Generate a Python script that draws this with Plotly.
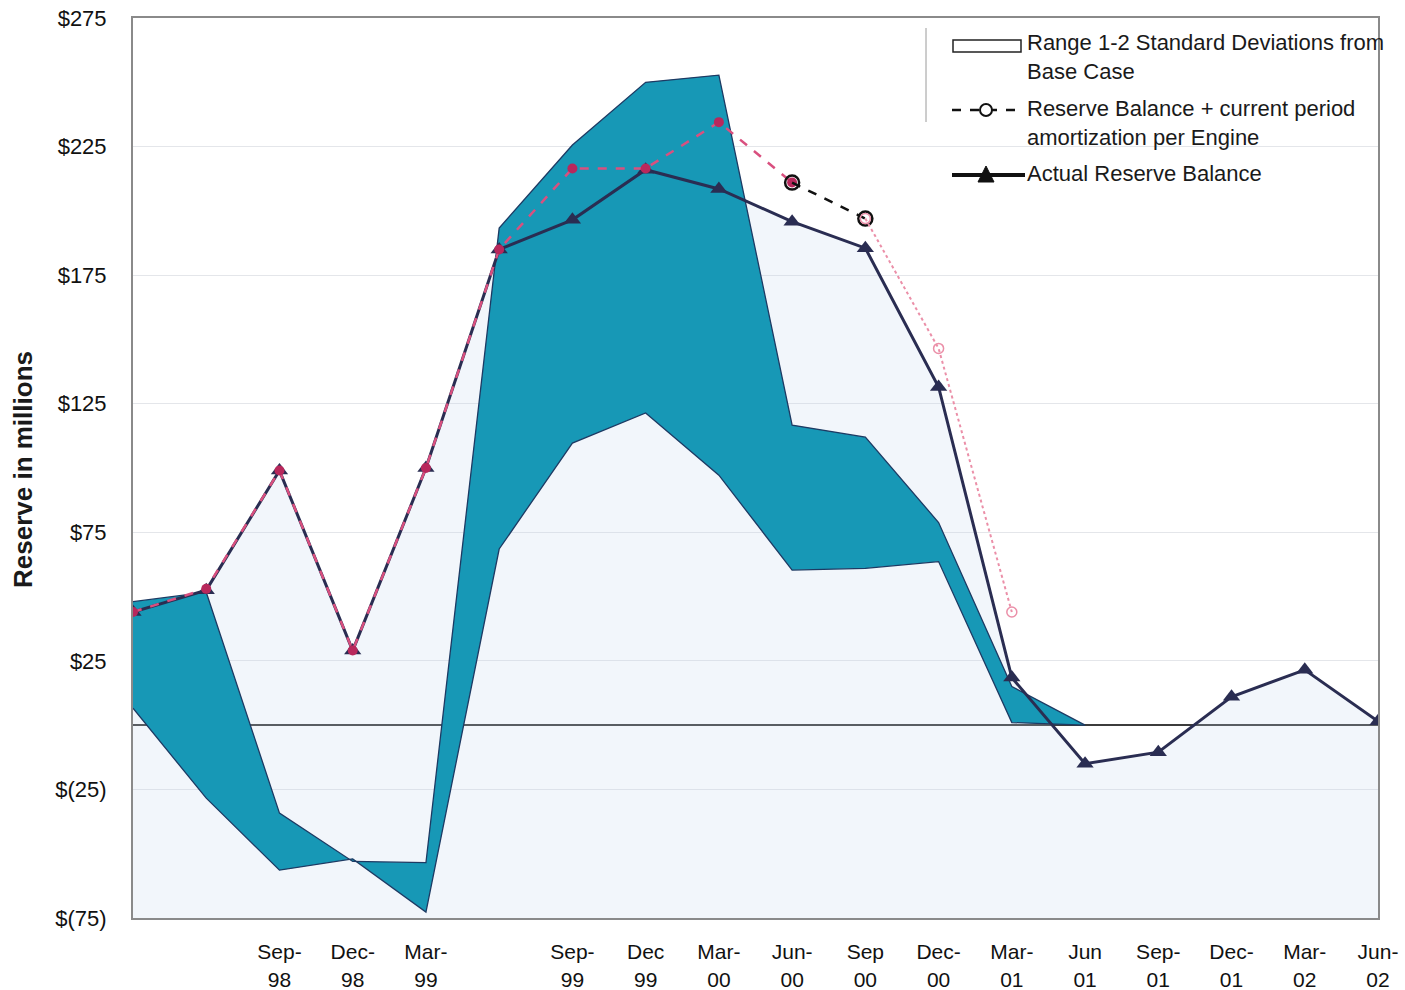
import plotly.graph_objects as go

# ---------------- data ----------------
quarters = ["Mar-98", "Jun-98", "Sep-98", "Dec-98", "Mar-99", "Jun-99", "Sep-99", "Dec-99",
            "Mar-00", "Jun-00", "Sep-00", "Dec-00", "Mar-01", "Jun-01", "Sep-01", "Dec-01",
            "Mar-02", "Jun-02"]
tick_labels = ["", "", "Sep-<br>98", "Dec-<br>98", "Mar-<br>99", "", "Sep-<br>99", "Dec<br>99",
               "Mar-<br>00", "Jun-<br>00", "Sep<br>00", "Dec-<br>00", "Mar-<br>01", "Jun<br>01",
               "Sep-<br>01", "Dec-<br>01", "Mar-<br>02", "Jun-<br>02"]

actual = [44, 52.5, 99, 29, 100, 185, 196.5, 216, 208.5, 195.8, 185.5, 131.5, 18.5,
          -15, -10.5, 11, 21.5, 1.5]
amort_main = [44, 53, 99, 29, 100, 185, 216.5, 216.5, 234.5, 211]          # Mar-98 .. Jun-00
amort_mid = [211, 197]                                                       # Jun-00 .. Sep-00
amort_tail = [197, 146.5, 44]                                                # Sep-00 .. Mar-01
band_upper = [48, 51.7, -34.2, -53, -53.5, 193.3, 225.6, 250, 252.8, 116.7, 112, 78.8, 15, 0]
band_lower = [6.6, -28.4, -56.4, -52, -72.7, 68.5, 109.7, 121.4, 97.2, 60.3, 61, 63.6, 1, 0]

y_ticks = [-75, -25, 25, 75, 125, 175, 225, 275]
y_ticktext = ["$(75)", "$(25)", "$25", "$75", "$125", "$175", "$225", "$275"]
y_min, y_max = -75, 275

x = list(range(len(quarters)))

TEAL = "#1798b6"
NAVY = "#2a2d52"
PINK = "#d9507f"
FONT = "Liberation Sans, Arial, sans-serif"

fig = go.Figure()

# light fill under the actual balance line (down to the axis floor)
fig.add_trace(go.Scatter(x=x, y=[y_min] * len(x), mode="lines", line=dict(width=0),
                         hoverinfo="skip", showlegend=False))
fig.add_trace(go.Scatter(x=x, y=actual, mode="lines", line=dict(width=0),
                         fill="tonexty", fillcolor="rgba(195,212,235,0.22)",
                         hoverinfo="skip", showlegend=False))

# standard deviation band
xb = x[:len(band_upper)]
fig.add_trace(go.Scatter(x=xb, y=band_upper, mode="lines",
                         line=dict(color="#1d3a63", width=1.3), showlegend=False))
fig.add_trace(go.Scatter(x=xb, y=band_lower, mode="lines", fill="tonexty", fillcolor=TEAL,
                         line=dict(color="#1d3a63", width=1.3), showlegend=False))

# actual reserve balance
fig.add_trace(go.Scatter(x=x, y=actual, mode="lines+markers",
                         line=dict(color=NAVY, width=3),
                         marker=dict(symbol="triangle-up", size=15, color=NAVY),
                         showlegend=False))

# reserve balance + current period amortization
fig.add_trace(go.Scatter(x=x[:len(amort_main)], y=amort_main, mode="lines+markers",
                         line=dict(color=PINK, width=2.5, dash="dash"),
                         marker=dict(symbol="circle", size=10, color="#b8285c"),
                         showlegend=False))
fig.add_trace(go.Scatter(x=x[9:9 + len(amort_mid)], y=amort_mid, mode="lines+markers",
                         line=dict(color="#111111", width=2.5, dash="dash"),
                         marker=dict(symbol="circle-open", size=14, color="#111111",
                                     line=dict(width=2.5)),
                         showlegend=False))
fig.add_trace(go.Scatter(x=x[10:10 + len(amort_tail)], y=amort_tail, mode="lines+markers",
                         line=dict(color="#eb8fa8", width=2, dash="dot"),
                         marker=dict(symbol="circle-open", size=10, color="#eb8fa8",
                                     line=dict(width=1.5)),
                         showlegend=False))

# ---------------- layout ----------------
W, H = 1405, 990
PL, PR, PT, PB = 133, 1378, 18, 918           # plot area in page pixels
L, R, T, B = PL, W - PR, PT, H - PB
PW, PH = PR - PL, PB - PT


def px(xp):
    return (xp - PL) / PW


def py(yp):
    return (PB - yp) / PH


shapes = []
annotations = []

# legend
shapes.append(dict(type="line", xref="paper", yref="paper", x0=px(926), x1=px(926),
                   y0=py(28), y1=py(122), line=dict(color="#9a9a9a", width=1)))
shapes.append(dict(type="rect", xref="paper", yref="paper", x0=px(953), x1=px(1021),
                   y0=py(52), y1=py(40), fillcolor="white", line=dict(color="#222", width=1.5)))
shapes.append(dict(type="line", xref="paper", yref="paper", x0=px(952), x1=px(1021),
                   y0=py(110), y1=py(110), line=dict(color="#111", width=2.5, dash="dash")))
shapes.append(dict(type="circle", xref="paper", yref="paper", x0=px(980), x1=px(992),
                   y0=py(104), y1=py(116), fillcolor="white", line=dict(color="#111", width=2)))
shapes.append(dict(type="line", xref="paper", yref="paper", x0=px(952), x1=px(1025),
                   y0=py(175), y1=py(175), line=dict(color="#111", width=4)))
shapes.append(dict(type="path", xref="paper", yref="paper",
                   path=f"M {px(978)} {py(182)} L {px(994)} {py(182)} L {px(986)} {py(166)} Z",
                   fillcolor="#111", line=dict(color="#111", width=1)))

legend_texts = [
    (28, "Range 1-2 Standard Deviations from<br>Base Case"),
    (94, "Reserve Balance + current period<br>amortization per Engine"),
    (159, "Actual Reserve Balance"),
]
for top, txt in legend_texts:
    annotations.append(dict(xref="paper", yref="paper", x=px(1025), y=py(top),
                            xanchor="left", yanchor="top", align="left", showarrow=False,
                            text=txt, font=dict(family=FONT, size=22, color="#1a1a1a")))

# y axis title
annotations.append(dict(xref="paper", yref="paper", x=px(23), y=py(470), xanchor="center",
                        yanchor="middle", textangle=-90, showarrow=False,
                        text="<b>Reserve in millions</b>",
                        font=dict(family=FONT, size=26, color="#1a1a1a")))

fig.update_layout(
    width=W, height=H,
    margin=dict(l=L, r=R, t=T, b=B, autoexpand=False),
    paper_bgcolor="white", plot_bgcolor="white",
    showlegend=False,
    shapes=shapes, annotations=annotations,
    xaxis=dict(range=[0, len(x) - 1], tickmode="array", tickvals=x, ticktext=tick_labels,
               showgrid=False, zeroline=False, showline=True, linecolor="#8a8a8a",
               linewidth=2, mirror=True, ticks="", ticklabelstandoff=14,
               automargin=False, ticklabeloverflow="allow",
               tickfont=dict(family=FONT, size=21, color="#111")),
    yaxis=dict(range=[y_min, y_max], tickmode="array", tickvals=y_ticks, ticktext=y_ticktext,
               showgrid=True, gridcolor="#e4e6ea", gridwidth=1,
               zeroline=True, zerolinecolor="#3c3c3c", zerolinewidth=2,
               showline=True, linecolor="#8a8a8a", linewidth=2, mirror=True,
               ticks="", ticklabelstandoff=20,
               automargin=False, ticklabeloverflow="allow",
               tickfont=dict(family=FONT, size=22, color="#111")),
)

# remove the default 8px page margin so the 1405x990 figure fills the window exactly
fig.write_html("out.html", config={"displayModeBar": False},
               post_script="document.body.style.margin='0px';")
